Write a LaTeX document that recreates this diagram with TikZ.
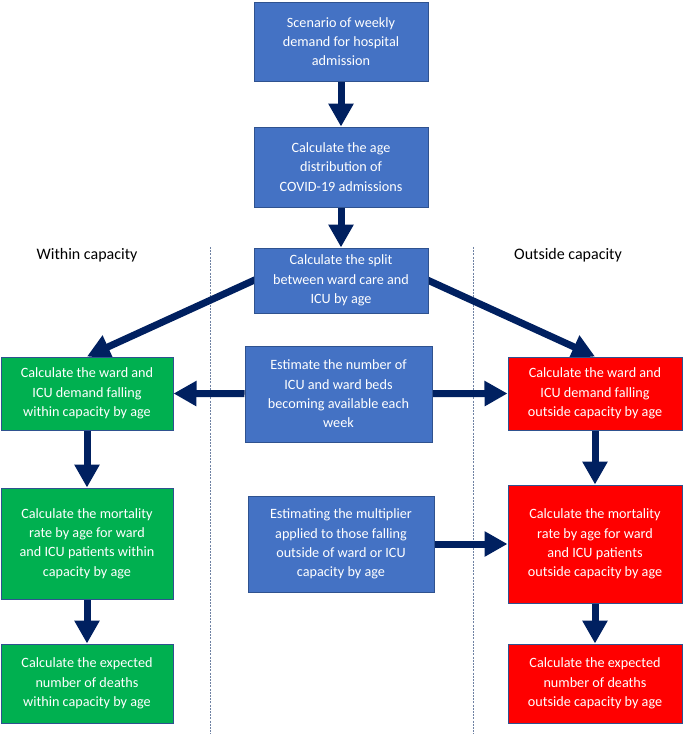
\documentclass[tikz,border=0pt]{standalone}
\usepackage{fontspec}
\setmainfont{Carlito}
\usetikzlibrary{arrows.meta,backgrounds}
\definecolor{boxblue}{HTML}{4472C4}
\definecolor{edgeblue}{HTML}{2F528F}
\definecolor{boxgreen}{HTML}{00B050}
\definecolor{boxred}{HTML}{FF0000}
\definecolor{navy}{HTML}{002060}
\definecolor{sepline}{HTML}{6F82A3}
\begin{document}
\begin{tikzpicture}[x=1pt,y=-1pt,
  box/.style={draw=edgeblue, line width=1pt, text=white, align=center, inner sep=0pt,
    font=\fontsize{14.2}{19.3}\selectfont},
  bluebox/.style={box, fill=boxblue},
  greenbox/.style={box, fill=boxgreen},
  redbox/.style={box, fill=boxred},
  lbl/.style={font=\fontsize{16}{19.3}\selectfont, text=black},
  flow/.style={draw=navy, line width=7pt, -{Triangle[width=24pt,length=23pt]}},
  sepl/.style={draw=sepline, line width=0.8pt, dash pattern=on 2pt off 1.2pt}]
\useasboundingbox (0,0) rectangle (685,734);

\node[bluebox, minimum width=174pt, minimum height=79pt] (top) at (341,41.5)
  {Scenario of weekly\\demand for hospital\\admission};
\node[bluebox, minimum width=174pt, minimum height=80pt] (age) at (341,167)
  {Calculate the age\\distribution of\\COVID-19 admissions};
\node[bluebox, minimum width=174pt, minimum height=65pt] (split) at (341,280.5)
  {Calculate the split\\between ward care and\\ICU by age};

\node[greenbox, minimum width=172pt, minimum height=73pt] (g1) at (87,393.5)
  {Calculate the ward and\\ICU demand falling\\within capacity by age};
\node[greenbox, minimum width=172pt, minimum height=111pt] (g2) at (87,543.5)
  {Calculate the mortality\\rate by age for ward\\and ICU patients within\\capacity by age};
\node[greenbox, minimum width=172pt, minimum height=79pt] (g3) at (87,683.5)
  {Calculate the expected\\number of deaths\\within capacity by age};

\node[bluebox, minimum width=187pt, minimum height=96pt] (c1) at (338.5,394)
  {Estimate the number of\\ICU and ward beds\\becoming available each\\week};
\node[bluebox, minimum width=186pt, minimum height=96pt] (c2) at (341,544)
  {Estimating the multiplier\\applied to those falling\\outside of ward or ICU\\capacity by age};

\node[redbox, minimum width=174pt, minimum height=73pt] (r1) at (595,393.5)
  {Calculate the ward and\\ICU demand falling\\outside capacity by age};
\node[redbox, minimum width=174pt, minimum height=118pt] (r2) at (595,544)
  {Calculate the mortality\\rate by age for ward\\and ICU patients\\outside capacity by age};
\node[redbox, minimum width=174pt, minimum height=79pt] (r3) at (595,683.5)
  {Calculate the expected\\number of deaths\\outside capacity by age};

\node[lbl] (within) at (87,255) {Within capacity};
\node[lbl] (outside) at (568,255) {Outside capacity};

\coordinate (s1t) at (210,247);
\coordinate (s1b) at (210,734);
\coordinate (s2t) at (473,247);
\coordinate (s2b) at (473,734);

\begin{scope}[on background layer]
  \draw[sepl] (s1t) -- (s1b);
  \draw[sepl] (s2t) -- (s2b);
  \draw[flow] (top) -- (age);
  \draw[flow] (age) -- (split);
  \draw[flow, shorten <=-6pt] (split.west) -- (g1.north);
  \draw[flow, shorten <=-6pt] (split.east) -- (r1.north);
  \draw[flow] (c1) -- (g1.east);
  \draw[flow] (c1) -- (r1.west);
  \draw[flow] (c2.east) -- (r2.west);
  \draw[flow] (g1) -- (g2);
  \draw[flow] (g2) -- (g3);
  \draw[flow] (r1) -- (r2);
  \draw[flow] (r2) -- (r3);
\end{scope}
\end{tikzpicture}
\end{document}
